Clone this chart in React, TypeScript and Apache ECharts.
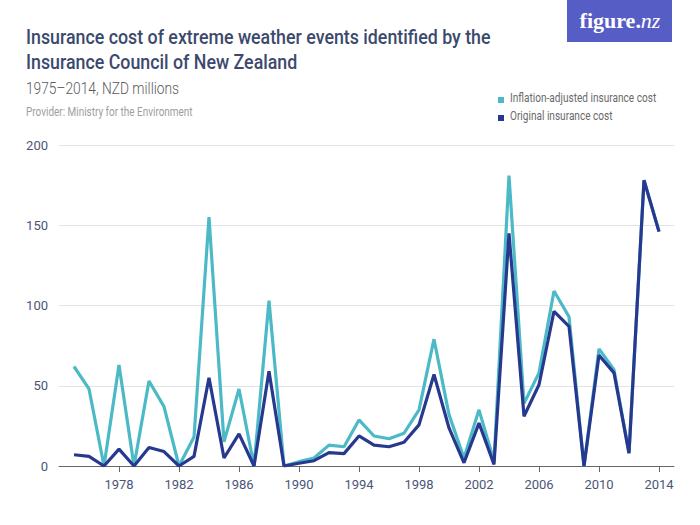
import React, { useEffect, useRef } from "react";
import * as echarts from "echarts";

const years: number[] = [];
for (let y = 1975; y <= 2014; y++) years.push(y);

const inflationAdjusted = [
  62, 48, 0, 63, 0, 53, 37, 0, 18, 155,
  15, 48, 0, 103, 0, 2.7, 5, 13, 12, 28.7,
  18.7, 17, 20.4, 35, 79, 32, 5, 35, 3, 181,
  39, 58, 109, 93, 0, 73, 60, 8, 178, 146,
];

const originalCost = [
  7, 6, 0, 10.5, 0, 11.5, 9, 0, 6, 55,
  5, 20, 0, 59, 0, 1.7, 3.3, 8.3, 7.7, 18.7,
  13, 12, 14.8, 25.6, 57, 23.7, 2, 26.7, 1, 145,
  31, 50.6, 96.4, 87, 0, 69, 58, 8, 178, 146,
];

const xTickLabels = [1978, 1982, 1986, 1990, 1994, 1998, 2002, 2006, 2010, 2014];

const seriesNames = ["Inflation-adjusted insurance cost", "Original insurance cost"];
const seriesColors = ["#4cb9c7", "#27398f"];

const FONT = "Roboto, 'Noto Sans', sans-serif";

export default function App() {
  const ref = useRef<HTMLDivElement>(null);

  useEffect(() => {
    if (!ref.current) return;
    const chart = echarts.init(ref.current, undefined, { renderer: "svg" });

    const lineData = (vals: number[]) => years.map((y, i) => [y, vals[i]]);

    chart.setOption({
      animation: false,
      backgroundColor: "#ffffff",
      textStyle: { fontFamily: FONT },
      grid: { left: 59, right: 26, top: 145, bottom: 59, containLabel: false },
      xAxis: {
        type: "value",
        min: 1974,
        max: 2015,
        axisLine: { show: true, lineStyle: { color: "#666666", width: 1 } },
        axisTick: {
          show: true,
          length: 6,
          customValues: xTickLabels,
          lineStyle: { color: "#666666" },
        },
        axisLabel: {
          customValues: xTickLabels,
          formatter: (v: number) => String(v),
          color: "#4b5577",
          fontSize: 13,
          margin: 12,
          fontFamily: FONT,
        },
        splitLine: { show: false },
      },
      yAxis: {
        type: "value",
        min: 0,
        max: 200,
        interval: 50,
        axisLine: { show: false },
        axisTick: { show: false },
        axisLabel: { color: "#4b5577", fontSize: 13, margin: 11, fontFamily: FONT },
        splitLine: { lineStyle: { color: "#e3e3e3", width: 1 } },
      },
      series: [
        {
          name: seriesNames[0],
          type: "line",
          data: lineData(inflationAdjusted),
          showSymbol: false,
          symbol: "none",
          lineStyle: { color: seriesColors[0], width: 3.2, join: "bevel" },
          itemStyle: { color: seriesColors[0] },
          z: 2,
        },
        {
          name: seriesNames[1],
          type: "line",
          data: lineData(originalCost),
          showSymbol: false,
          symbol: "none",
          lineStyle: { color: seriesColors[1], width: 3.2, join: "bevel" },
          itemStyle: { color: seriesColors[1] },
          z: 3,
        },
      ],
      graphic: [
        {
          type: "text",
          x: 26,
          y: 37,
          scaleX: 0.89,
          style: {
            text: "Insurance cost of extreme weather events identified by the",
            fill: "#3b4a6c",
            font: `500 20px ${FONT}`,
            verticalAlign: "middle",
            align: "left",
          },
        },
        {
          type: "text",
          x: 26,
          y: 62.5,
          scaleX: 0.89,
          style: {
            text: "Insurance Council of New Zealand",
            fill: "#3b4a6c",
            font: `500 20px ${FONT}`,
            verticalAlign: "middle",
            align: "left",
          },
        },
        {
          type: "text",
          x: 26,
          y: 88.5,
          scaleX: 0.86,
          style: {
            text: "1975–2014, NZD millions",
            fill: "#5a5a5a",
            font: `300 16px ${FONT}`,
            verticalAlign: "middle",
            align: "left",
          },
        },
        {
          type: "text",
          x: 26,
          y: 112.5,
          scaleX: 0.83,
          style: {
            text: "Provider: Ministry for the Environment",
            fill: "#9e9e9e",
            font: `12px ${FONT}`,
            verticalAlign: "middle",
            align: "left",
          },
        },
        {
          type: "rect",
          shape: { x: 567, y: 0, width: 105, height: 42 },
          style: { fill: "#565dc5" },
        },
        {
          type: "text",
          x: 620,
          y: 20,
          style: {
            text: "{a|figure.}{b|nz}",
            align: "center",
            verticalAlign: "middle",
            rich: {
              a: { fill: "#ffffff", fontFamily: "'Liberation Serif', 'DejaVu Serif', serif", fontSize: 22, fontWeight: "bold" },
              b: { fill: "#ffffff", fontFamily: "'Liberation Serif', 'DejaVu Serif', serif", fontSize: 22, fontStyle: "italic" },
            },
          },
        },
        {
          type: "rect",
          shape: { x: 498, y: 97, width: 6, height: 6 },
          style: { fill: seriesColors[0] },
        },
        {
          type: "text",
          x: 510,
          y: 98,
          scaleX: 0.84,
          style: {
            text: seriesNames[0],
            fill: "#6a6a6a",
            font: `12px ${FONT}`,
            verticalAlign: "middle",
            align: "left",
          },
        },
        {
          type: "rect",
          shape: { x: 498, y: 115, width: 6, height: 6 },
          style: { fill: seriesColors[1] },
        },
        {
          type: "text",
          x: 510,
          y: 116,
          scaleX: 0.84,
          style: {
            text: seriesNames[1],
            fill: "#6a6a6a",
            font: `12px ${FONT}`,
            verticalAlign: "middle",
            align: "left",
          },
        },
      ],
    });

    return () => chart.dispose();
  }, []);

  return <div ref={ref} style={{ width: 700, height: 525, position: "absolute", left: 0, top: 0 }} />;
}
